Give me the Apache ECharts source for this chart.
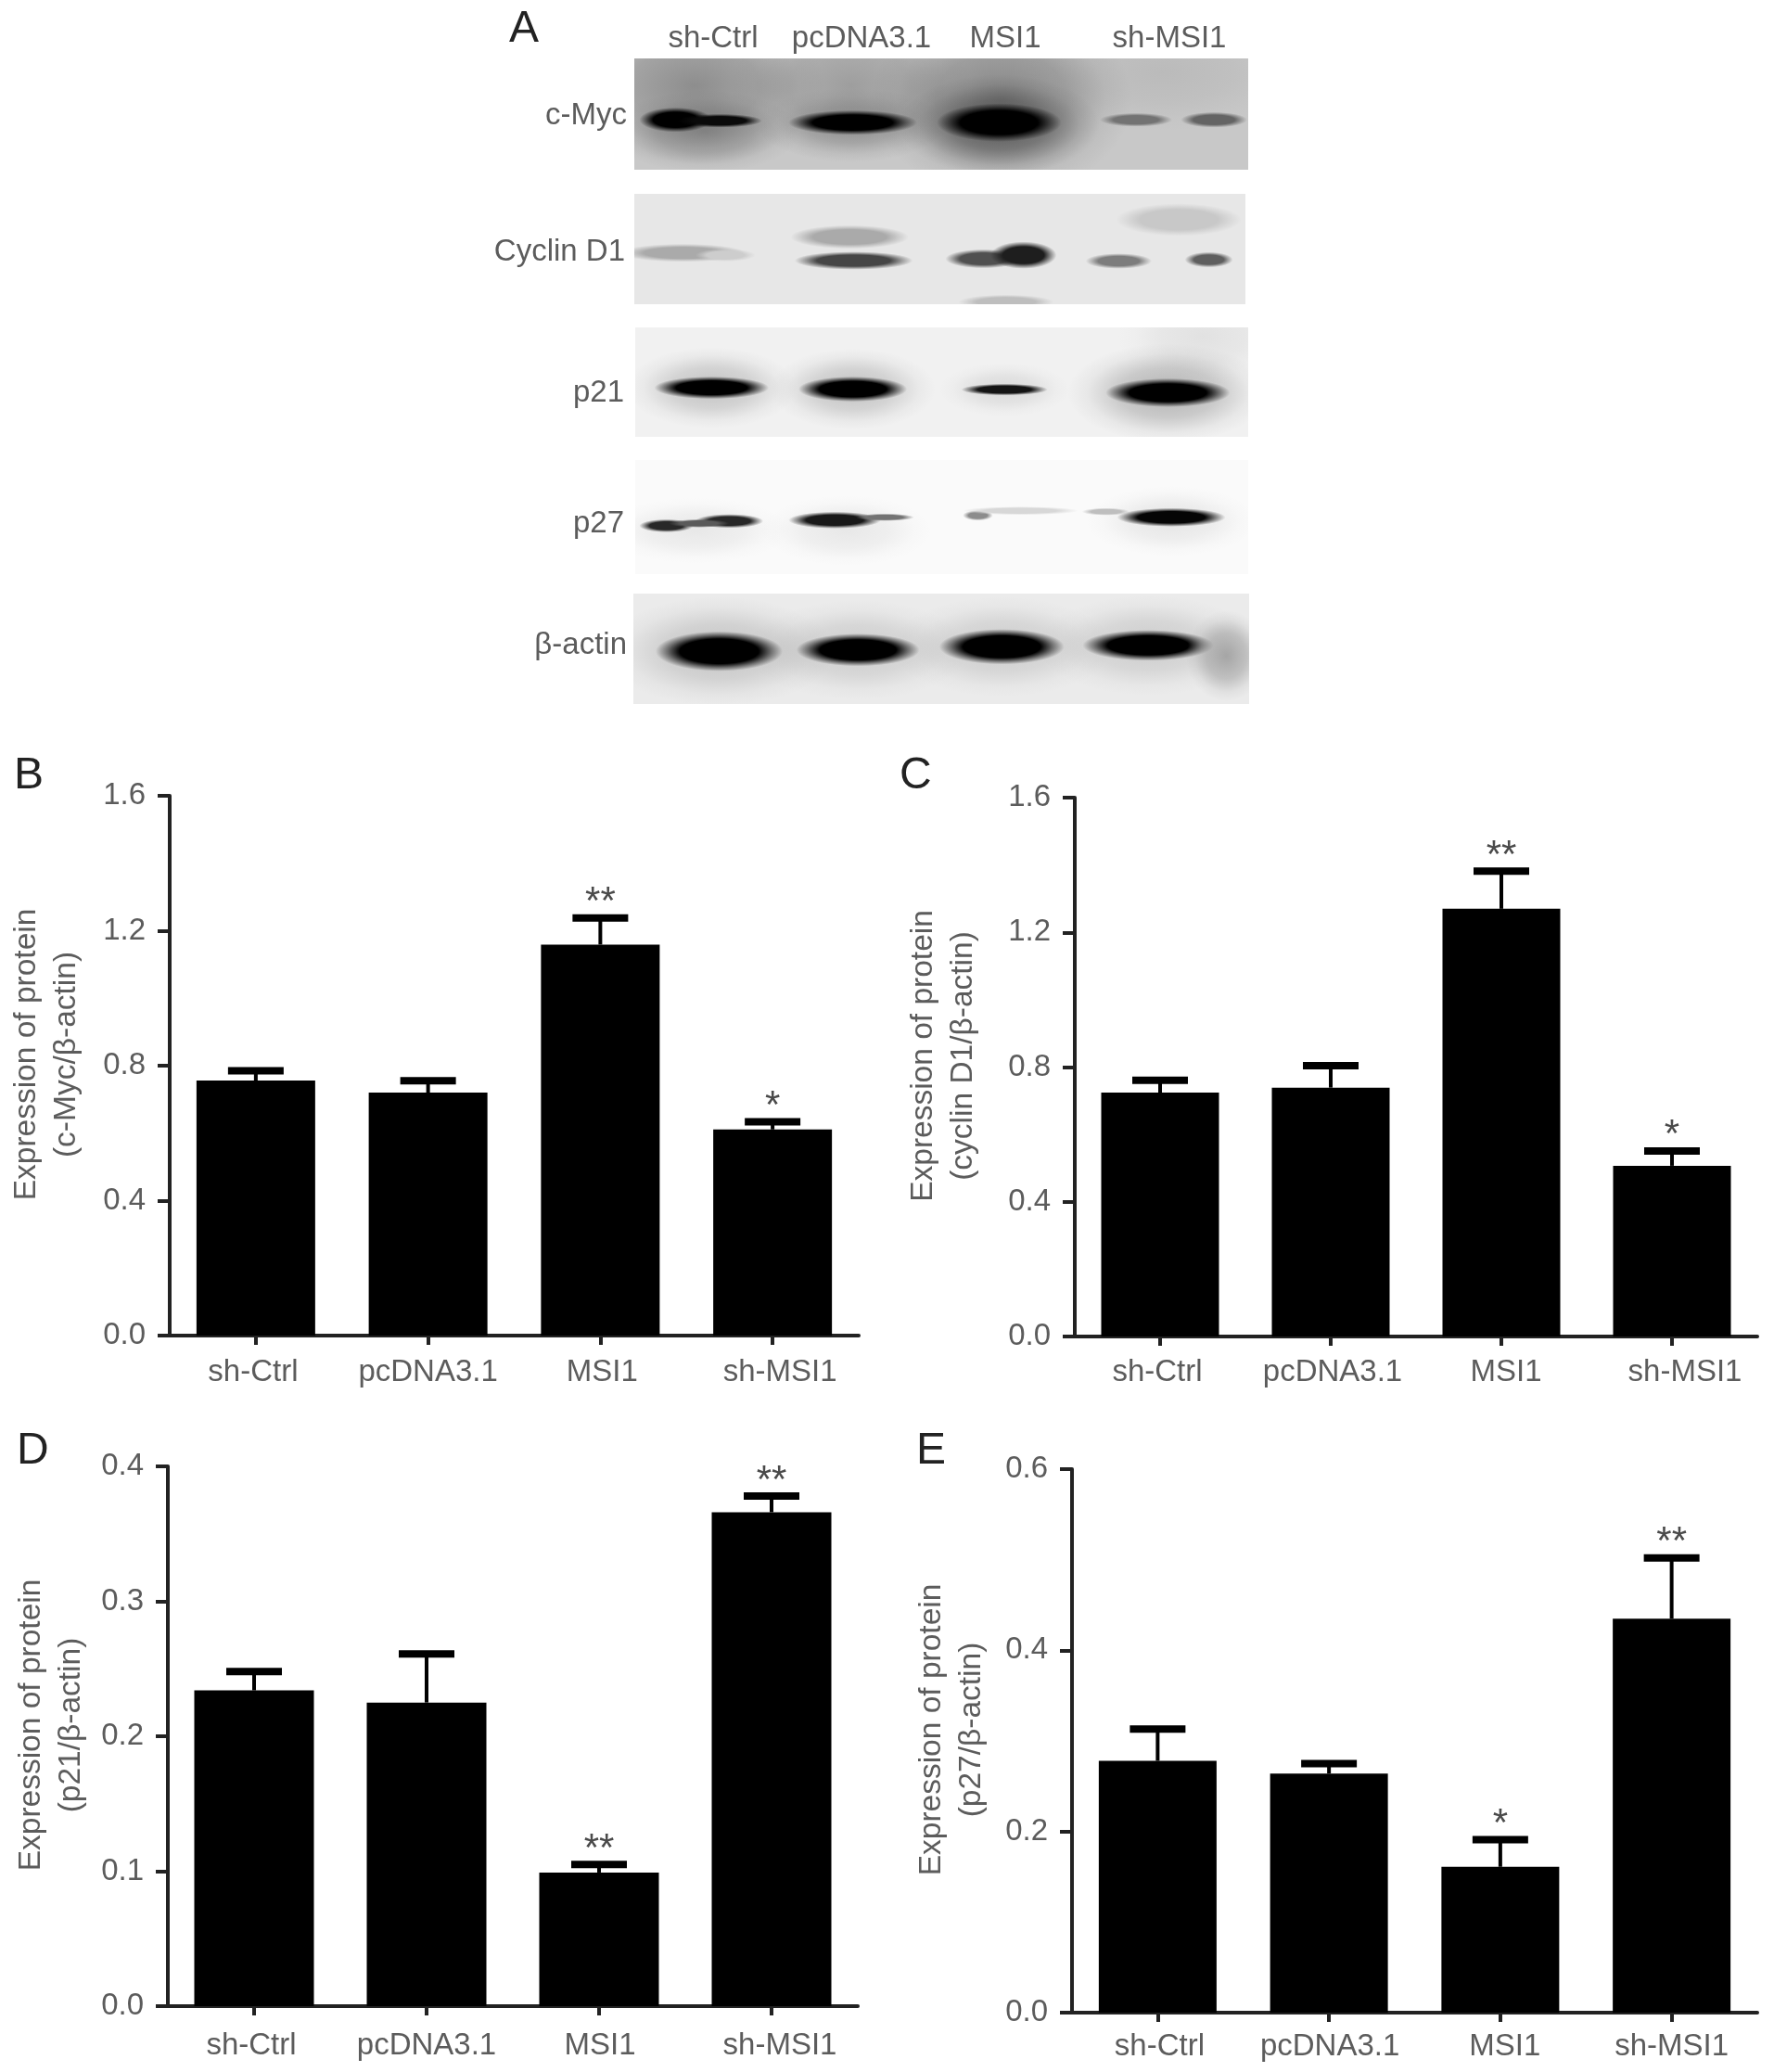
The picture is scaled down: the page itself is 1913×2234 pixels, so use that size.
<!DOCTYPE html>
<html><head><meta charset="utf-8">
<style>html,body{margin:0;padding:0;background:#fff}#c{width:1913px;height:2234px}</style>
<script src="https://cdn.jsdelivr.net/npm/echarts@6/dist/echarts.min.js"></script>
</head><body><div id="c"></div>
<script>
const categories = ['sh-Ctrl','pcDNA3.1','MSI1','sh-MSI1'];
const proteins = ['c-Myc','Cyclin D1','p21','p27','β-actin'];

// Densitometry bars: means, top of error bar, significance marks
const cMycMeans = [0.756,0.720,1.159,0.611];
const cMycCaps  = [0.785,0.755,1.238,0.634];
const cMycStars = ['','','**','*'];
const cyclinMeans = [0.724,0.739,1.270,0.507];
const cyclinCaps  = [0.761,0.804,1.382,0.551];
const cyclinStars = ['','','**','*'];
const p21Means = [0.234,0.225,0.099,0.366];
const p21Caps  = [0.248,0.261,0.105,0.378];
const p21Stars = ['','','**','**'];
const p27Means = [0.278,0.264,0.161,0.435];
const p27Caps  = [0.313,0.275,0.191,0.502];
const p27Stars = ['','','*','**'];

// Blot bands: [lane position, migration, half length, half thickness, grey level, opacity]
// opacity below 1 marks a diffuse haze, 1 a sharp band
const blotMyc = [
 [120,60,260,170,60,0.42],[430,60,240,170,60,0.30],[730,90,260,210,40,0.42],[1050,30,280,130,90,0.12],
 [140,160,190,90,50,0.35],[432,145,190,80,50,0.28],[725,145,200,110,30,0.5],
 [82,134,72,27,0,1],[170,136,84,15,10,1],[434,140,128,27,0,1],[725,140,124,42,0,1],
 [997,134,72,15,115,1],[1152,134,66,17,100,1]];
const blotCyclin = [
 [97,130,125,20,170,1],[182,135,60,14,205,1],
 [430,95,118,26,170,1],[438,147,118,20,70,1],
 [697,143,76,21,80,1],[777,135,66,30,30,1],[742,238,95,16,190,1],
 [967,148,66,17,125,1],[1147,145,48,17,95,1],[1087,57,125,36,200,1]];
const blotP21 = [
 [152,134,170,90,70,0.28],[433,137,165,90,70,0.28],[735,138,130,60,90,0.15],[1060,145,200,110,60,0.35],
 [1130,20,170,110,170,0.22],
 [152,134,114,25,0,1],[433,137,108,28,0,1],[735,138,86,13,20,1],[1060,145,124,32,0,1]];
const blotP27 = [
 [120,150,190,70,120,0.14],[420,150,170,75,120,0.14],[1067,130,170,75,120,0.16],
 [62,140,54,14,40,1],[187,130,68,15,40,1],[127,135,60,9,90,1],
 [397,128,92,18,25,1],[497,122,58,8,115,1],
 [682,118,30,11,140,1],[767,108,115,9,215,1],
 [1067,122,108,20,5,1],[937,110,48,8,190,1]];
const blotActin = [
 [170,127,230,120,90,0.28],[445,124,220,110,90,0.22],[730,117,220,110,90,0.22],[1020,114,220,110,90,0.22],
 [170,127,126,44,0,1],[445,124,122,36,0,1],[730,117,124,39,0,1],[1020,114,130,34,0,1],
 [1175,137,80,100,150,0.8]];

const FONT = '"Liberation Sans", Arial, sans-serif';
const GREY = '#5c5c5c';
const bandItem = (p, api) => {
  const c = api.coord([api.value(0), api.value(1)]);
  const s = api.size([api.value(2), api.value(3)]);
  const g = api.value(4), o = api.value(5);
  const col = a => `rgba(${g},${g},${g},${a})`;
  const stops = o < 1
    ? [{offset:0,color:col(o)},{offset:0.5,color:col(o*0.62)},{offset:0.8,color:col(o*0.15)},{offset:1,color:col(0)}]
    : [{offset:0,color:col(1)},{offset:0.62,color:col(1)},{offset:0.82,color:col(0.45)},{offset:1,color:col(0)}];
  return {type:'circle', x:c[0], y:c[1], scaleX:s[0]/100, scaleY:s[1]/100,
    shape:{cx:0,cy:0,r:100},
    style:{fill:new echarts.graphic.RadialGradient(0.5,0.5,0.5,stops)}};
};
const errItem = (p, api) => {
  const mean = api.coord([api.value(0), api.value(1)]);
  const cap = api.coord([api.value(0), api.value(2)]);
  const star = api.value(3);
  const children = [
    {type:'line', shape:{x1:mean[0],y1:mean[1],x2:cap[0],y2:cap[1]}, style:{stroke:'#000',lineWidth:4}},
    {type:'line', shape:{x1:cap[0]-30,y1:cap[1],x2:cap[0]+30,y2:cap[1]}, style:{stroke:'#000',lineWidth:8}}
  ];
  if (star) children.push({type:'text', x:cap[0], y:cap[1]-16,
    style:{text:star, font:`42px ${FONT}`, fill:'#4a4a4a', align:'center', verticalAlign:'middle'}});
  return {type:'group', children};
};

const grids=[], xAxes=[], yAxes=[], series=[], graphics=[];

const blotPanels = [
 {d:blotMyc,   l:684,t:63, w:662,h:120,bg:'#c8c8c8'},
 {d:blotCyclin,l:684,t:209,w:659,h:119,bg:'#e7e7e7'},
 {d:blotP21,   l:685,t:353,w:661,h:118,bg:'#f1f1f1'},
 {d:blotP27,   l:685,t:496,w:661,h:123,bg:'#fafafa'},
 {d:blotActin, l:683,t:640,w:664,h:119,bg:'#ebebeb'}];
const laneX = [769,929,1084,1261];
const rowY = [125,272,424,565,696];
const rowR = [676,674,673,673,676];
blotPanels.forEach((b,i)=>{
  const n = grids.length;
  grids.push({left:b.l,top:b.t,width:b.w,height:b.h,show:true,backgroundColor:b.bg,borderWidth:0});
  xAxes.push({gridIndex:n,type:'value',min:0,max:1220,show:false});
  yAxes.push({gridIndex:n,type:'value',min:0,max:243,inverse:true,show:false});
  series.push({type:'custom',xAxisIndex:n,yAxisIndex:n,clip:true,silent:true,
    renderItem:bandItem,data:b.d,animation:false});
  graphics.push({type:'text',right:1913-rowR[i],top:rowY[i]-17,
    style:{text:proteins[i],font:`33px ${FONT}`,fill:GREY}});
});
categories.forEach((c,i)=>graphics.push({type:'text',x:laneX[i],y:42,
  style:{text:c,font:`33px ${FONT}`,fill:GREY,align:'center',verticalAlign:'middle'}}));

const barPanels = [
 {m:cMycMeans,c:cMycCaps,s:cMycStars,max:1.6,iv:0.4,n:'(c-Myc/β-actin)',l:183,t:858,w:743,h:582,bw:128,off:[-6,0,4,16],np:24,gap:90,mg:23,
  letter:'B',lx:15,ly:837},
 {m:cyclinMeans,c:cyclinCaps,s:cyclinStars,max:1.6,iv:0.4,n:'(cyclin D1/β-actin)',l:1159,t:860,w:736,h:581,bw:127,off:[-6,4,10,28],np:24,gap:99,mg:22,
  letter:'C',lx:970,ly:837},
 {m:p21Means,c:p21Caps,s:p21Stars,max:0.4,iv:0.1,n:'(p21/β-actin)',l:181,t:1581,w:744,h:582,bw:129,off:[-6,0,2,18],np:24,gap:83,mg:26,
  letter:'D',lx:18,ly:1565},
 {m:p27Means,c:p27Caps,s:p27Stars,max:0.6,iv:0.2,n:'(p27/β-actin)',l:1156,t:1584,w:739,h:586,bw:127,off:[4,2,10,0],np:24,gap:87,mg:20,
  letter:'E',lx:988,ly:1565}];
barPanels.forEach(p=>{
  const n = grids.length;
  grids.push({left:p.l,top:p.t,width:p.w,height:p.h});
  xAxes.push({gridIndex:n,type:'category',
    data:categories.map((c,i)=>({value:c,textStyle:p.off[i]>0?{padding:[0,0,0,p.off[i]]}:{padding:[0,-p.off[i],0,0]}})),
    axisLine:{show:true,onZero:false,lineStyle:{color:'#222',width:4}},
    axisTick:{show:true,alignWithLabel:true,length:10,lineStyle:{color:'#222',width:4}},
    axisLabel:{interval:0,margin:p.mg,color:GREY,fontSize:33,fontFamily:FONT},splitLine:{show:false}});
  yAxes.push({gridIndex:n,type:'value',min:0,max:p.max,interval:p.iv,
    name:'Expression of protein\n'+p.n,nameLocation:'middle',nameGap:p.gap,nameRotate:90,
    nameTextStyle:{color:GREY,fontSize:33.5,fontFamily:FONT,lineHeight:43,padding:[0,0,0,p.np]},
    axisLine:{show:true,lineStyle:{color:'#222',width:4}},
    axisTick:{show:true,length:13,lineStyle:{color:'#222',width:4}},
    axisLabel:{margin:26,color:GREY,fontSize:33,fontFamily:FONT,formatter:v=>v.toFixed(1)},
    splitLine:{show:false}});
  series.push({type:'bar',xAxisIndex:n,yAxisIndex:n,data:p.m,barWidth:p.bw,itemStyle:{color:'#000'},animation:false,silent:true});
  series.push({type:'custom',xAxisIndex:n,yAxisIndex:n,silent:true,animation:false,renderItem:errItem,
    data:p.m.map((v,i)=>[i,v,p.c[i],p.s[i]]),
    dimensions:['x','mean','cap',{name:'star',type:'ordinal'}],encode:{x:0,y:[1,2]}});
  graphics.push({type:'text',x:p.lx,y:p.ly,
    style:{text:p.letter,font:`48px ${FONT}`,fill:'#222',verticalAlign:'middle'}});
});
graphics.push({type:'text',x:549,y:32,style:{text:'A',font:`48px ${FONT}`,fill:'#222',verticalAlign:'middle'}});

const chart = echarts.init(document.getElementById('c'),null,{renderer:'canvas',width:1913,height:2234});
chart.setOption({backgroundColor:'#fff',animation:false,grid:grids,xAxis:xAxes,yAxis:yAxes,series,graphic:graphics});
</script></body></html>
